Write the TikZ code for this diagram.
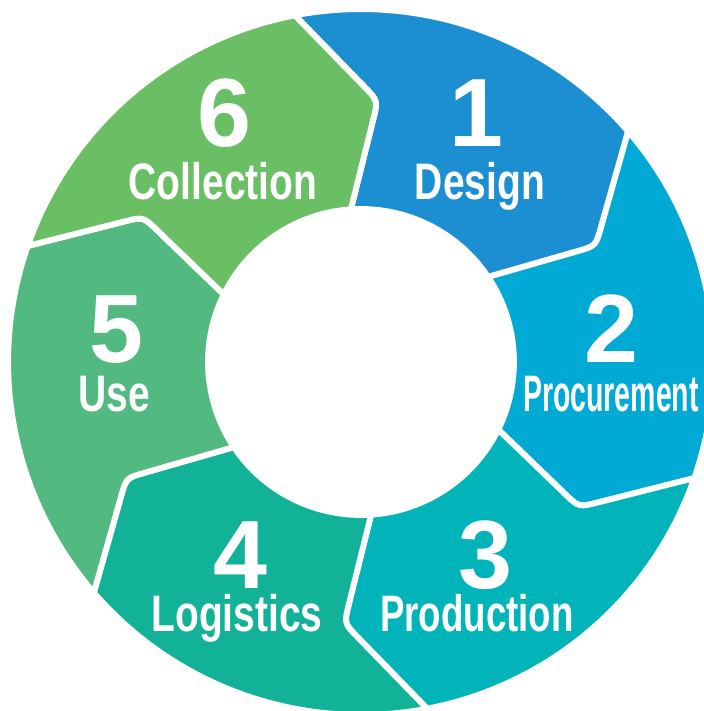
\documentclass[tikz,border=0pt]{standalone}
\usepackage{fontspec}
\newfontfamily\labelfont[FakeStretch=0.76]{Liberation Sans}
\newfontfamily\numfont{Liberation Sans}
\usepackage{tikz}
\usetikzlibrary{calc}

\definecolor{designblue}{RGB}{28,142,210}
\definecolor{procblue}{RGB}{0,170,212}
\definecolor{prodteal}{RGB}{0,180,186}
\definecolor{logteal}{RGB}{18,178,152}
\definecolor{usegreen}{RGB}{82,186,128}
\definecolor{collgreen}{RGB}{106,190,100}

\begin{document}
\begin{tikzpicture}[scale=0.025,
  seg/.style={draw=white,line width=4.2pt,line join=round},
  num/.style={text=white,anchor=base,inner sep=0pt,text depth=0pt,font=\numfont\bfseries\fontsize{69}{69}\selectfont},
  word/.style={text=white,anchor=base,inner sep=0pt,text height=27pt,font=\labelfont\bfseries\fontsize{36.5}{40}\selectfont}]
\useasboundingbox (-361,-349) rectangle (343,362);

% Boundaries (outer point, tip, inner point)
\coordinate (o1) at (40.8:353);   \coordinate (t1) at (26.3:262);   \coordinate (i1) at (33.8:153);
\coordinate (o2) at (-19.2:353);  \coordinate (t2) at (-33.7:262);  \coordinate (i2) at (-26.2:153);
\coordinate (o3) at (-79.2:353);  \coordinate (t3) at (-93.7:262);  \coordinate (i3) at (-86.2:153);
\coordinate (o4) at (-139.2:353); \coordinate (t4) at (-153.7:262); \coordinate (i4) at (-146.2:153);
\coordinate (o5) at (-199.2:353); \coordinate (t5) at (-213.7:262); \coordinate (i5) at (-206.2:153);
\coordinate (o6) at (100.8:353);  \coordinate (t6) at (86.3:262);   \coordinate (i6) at (93.8:153);

% Rounded tips
\coordinate (a1) at ($(t1)!0.17!(i1)$); \coordinate (b1) at ($(t1)!0.17!(o1)$);
\coordinate (a2) at ($(t2)!0.17!(i2)$); \coordinate (b2) at ($(t2)!0.17!(o2)$);
\coordinate (a3) at ($(t3)!0.17!(i3)$); \coordinate (b3) at ($(t3)!0.17!(o3)$);
\coordinate (a4) at ($(t4)!0.17!(i4)$); \coordinate (b4) at ($(t4)!0.17!(o4)$);
\coordinate (a5) at ($(t5)!0.17!(i5)$); \coordinate (b5) at ($(t5)!0.17!(o5)$);
\coordinate (a6) at ($(t6)!0.17!(i6)$); \coordinate (b6) at ($(t6)!0.17!(o6)$);

% 1 Design
\fill[designblue,seg] (o6) -- (b6) .. controls (t6) .. (a6) -- (i6)
  arc[start angle=93.8,end angle=33.8,radius=153]
  -- (a1) .. controls (t1) .. (b1) -- (o1)
  arc[start angle=40.8,end angle=100.8,radius=353] -- cycle;

% 2 Procurement
\fill[procblue,seg] (o1) -- (b1) .. controls (t1) .. (a1) -- (i1)
  arc[start angle=33.8,end angle=-26.2,radius=153]
  -- (a2) .. controls (t2) .. (b2) -- (o2)
  arc[start angle=-19.2,end angle=40.8,radius=353] -- cycle;

% 3 Production
\fill[prodteal,seg] (o2) -- (b2) .. controls (t2) .. (a2) -- (i2)
  arc[start angle=-26.2,end angle=-86.2,radius=153]
  -- (a3) .. controls (t3) .. (b3) -- (o3)
  arc[start angle=-79.2,end angle=-19.2,radius=353] -- cycle;

% 4 Logistics
\fill[logteal,seg] (o3) -- (b3) .. controls (t3) .. (a3) -- (i3)
  arc[start angle=-86.2,end angle=-146.2,radius=153]
  -- (a4) .. controls (t4) .. (b4) -- (o4)
  arc[start angle=-139.2,end angle=-79.2,radius=353] -- cycle;

% 5 Use
\fill[usegreen,seg] (o4) -- (b4) .. controls (t4) .. (a4) -- (i4)
  arc[start angle=-146.2,end angle=-206.2,radius=153]
  -- (a5) .. controls (t5) .. (b5) -- (o5)
  arc[start angle=-199.2,end angle=-139.2,radius=353] -- cycle;

% 6 Collection
\fill[collgreen,seg] (o5) -- (b5) .. controls (t5) .. (a5) -- (i5)
  arc[start angle=-206.2,end angle=-266.2,radius=153]
  -- (a6) .. controls (t6) .. (b6) -- (o6)
  arc[start angle=-259.2,end angle=-199.2,radius=353] -- cycle;

% Labels
\node[num] (num1) at (115,216) {1};
\node[word] (lab1) at (119,163) {Design};
\node[num] (num2) at (250,0) {2};
\node[word] (lab2) at (250,-49) {\scalebox{0.73}[1]{Procurement}};
\node[num] (num3) at (124,-226) {3};
\node[word] (lab3) at (116,-269) {\scalebox{0.94}[1]{Production}};
\node[num] (num4) at (-121,-226) {4};
\node[word] (lab4) at (-124,-269) {Logistics};
\node[num] (num5) at (-245,0) {5};
\node[word] (lab5) at (-247,-49) {Use};
\node[num] (num6) at (-137,216) {6};
\node[word] (lab6) at (-138,163) {Collection};
\end{tikzpicture}
\end{document}
